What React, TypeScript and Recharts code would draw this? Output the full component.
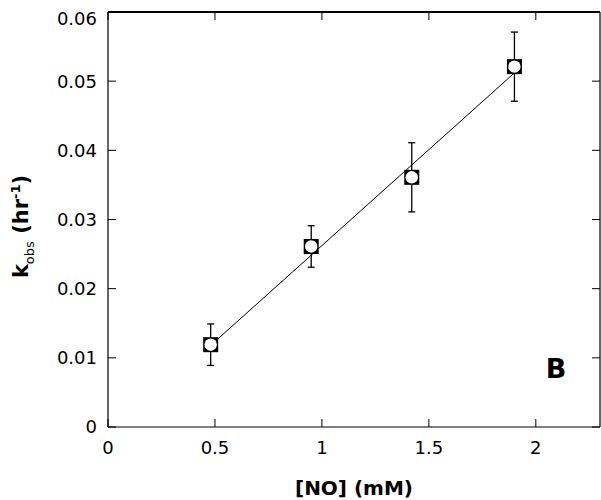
import React from 'react';
import {
  ComposedChart,
  Scatter,
  XAxis,
  YAxis,
  ErrorBar,
  ReferenceDot,
  ReferenceLine,
} from 'recharts';

// [NO] concentrations (mM) and observed rate constants (hr^-1)
const noConc = [0.48, 0.95, 1.42, 1.9];
const kObs = [0.0119, 0.0261, 0.0361, 0.0521];
const kErr = [0.003, 0.003, 0.005, 0.005];

// linear fit drawn between first and last point
const fitX = [0.48, 1.9];
const fitY = [0.0118, 0.0512];

const xTicks = [0, 0.5, 1, 1.5, 2];
const yTicks = [0, 0.01, 0.02, 0.03, 0.04, 0.05, 0.06];
const xMax = 2.3;
const yMax = 0.06;

const points = noConc.map((x, i) => ({ x, y: kObs[i], err: kErr[i] }));
const fitLine = fitX.map((x, i) => ({ x, y: fitY[i] }));

const FONT = '"DejaVu Sans", Arial, sans-serif';
const tickStyle = { fontSize: 18, fill: '#000', fontFamily: FONT };
const axisStroke = { stroke: '#000', strokeWidth: 1.2 };

const Marker = (props: any) => {
  const { cx, cy } = props;
  if (cx == null || cy == null) return null;
  return (
    <g>
      <rect x={cx - 7.5} y={cy - 7.5} width={15} height={15} fill="#000" />
      <circle cx={cx} cy={cy} r={6.2} fill="#fff" />
    </g>
  );
};

const YLabel = (props: any) => {
  const vb = props.viewBox || { x: 0, y: 0, width: 100, height: 400 };
  const x = vb.x + 20;
  const y = vb.y + vb.height / 2 + 7;
  return (
    <text
      x={x}
      y={y}
      transform={`rotate(-90 ${x} ${y})`}
      textAnchor="middle"
      fontFamily={FONT}
      fontWeight="bold"
      fontSize={21}
      fill="#000"
    >
      k
      <tspan fontSize={13} fontWeight="normal" dy={6}>obs</tspan>
      <tspan dy={-6}> (hr</tspan>
      <tspan fontSize={13} dy={-8}>-1</tspan>
      <tspan dy={8}>)</tspan>
    </text>
  );
};

const PanelLetter = (props: any) => {
  const { cx, cy } = props;
  return (
    <text x={cx} y={cy} textAnchor="middle" fontFamily={FONT} fontWeight="bold" fontSize={27} fill="#000">
      B
    </text>
  );
};

export default function App() {
  return (
    <div style={{ fontFamily: FONT, width: 593, height: 492 }}>
      <style>{'html, body { overflow: hidden; } body { margin: 8px 0 0 8px; }'}</style>
      <ComposedChart
        width={593}
        height={492}
        margin={{ top: 3, right: 0, left: 0, bottom: 0 }}
      >
        <XAxis
          xAxisId="bottom"
          dataKey="x"
          type="number"
          domain={[0, xMax]}
          ticks={xTicks}
          allowDataOverflow
          height={73}
          tickSize={-8}
          tickMargin={22}
          tick={tickStyle}
          axisLine={axisStroke}
          tickLine={{ stroke: '#000' }}
          label={{
            value: '[NO] (mM)',
            position: 'insideBottom',
            offset: 5,
            style: { fontSize: 20, fontWeight: 'bold', fill: '#000', fontFamily: FONT },
          }}
        />
        <XAxis
          xAxisId="top"
          orientation="top"
          dataKey="x"
          type="number"
          domain={[0, xMax]}
          ticks={xTicks}
          allowDataOverflow
          height={1}
          tickSize={-8}
          tickFormatter={() => ''}
          axisLine={axisStroke}
          tickLine={{ stroke: '#000' }}
        />
        <YAxis
          yAxisId="left"
          type="number"
          domain={[0, yMax]}
          ticks={yTicks}
          allowDataOverflow
          width={100}
          tickSize={-8}
          tickMargin={19}
          tick={tickStyle}
          axisLine={axisStroke}
          tickLine={{ stroke: '#000' }}
          label={<YLabel />}
        />
        <YAxis
          yAxisId="right"
          orientation="right"
          type="number"
          domain={[0, yMax]}
          ticks={yTicks}
          allowDataOverflow
          width={1}
          tickSize={-8}
          tickFormatter={() => ''}
          axisLine={axisStroke}
          tickLine={{ stroke: '#000' }}
        />
        {/* top frame line */}
        <ReferenceLine
          xAxisId="bottom"
          yAxisId="left"
          segment={[{ x: 0, y: yMax }, { x: xMax, y: yMax }]}
          stroke="#000"
          strokeWidth={2}
          ifOverflow="visible"
        />
        <Scatter
          xAxisId="top"
          yAxisId="right"
          data={fitLine}
          dataKey="y"
          line={{ stroke: '#000', strokeWidth: 1 }}
          shape={() => null}
          isAnimationActive={false}
        />
        <Scatter
          xAxisId="bottom"
          yAxisId="left"
          data={points}
          dataKey="y"
          shape={<Marker />}
          isAnimationActive={false}
        >
          <ErrorBar dataKey="err" direction="y" width={3.5} stroke="#000" strokeWidth={1.3} />
        </Scatter>
        <ReferenceDot
          xAxisId="bottom"
          yAxisId="left"
          x={2.094}
          y={0.0071}
          r={0}
          shape={<PanelLetter />}
        />
      </ComposedChart>
    </div>
  );
}
